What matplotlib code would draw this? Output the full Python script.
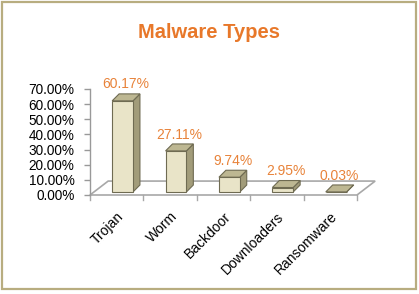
import matplotlib
matplotlib.use("Agg")
import matplotlib.pyplot as plt
from matplotlib.patches import Polygon, Rectangle
from matplotlib.ticker import FuncFormatter

categories = ["Trojan", "Worm", "Backdoor", "Downloaders", "Ransomware"]
values = [60.17, 27.11, 9.74, 2.95, 0.03]
value_labels = ["60.17%", "27.11%", "9.74%", "2.95%", "0.03%"]
yticks = [0, 10, 20, 30, 40, 50, 60, 70]

W, H, DPI = 419, 294, 100
fig = plt.figure(figsize=(W / DPI, H / DPI), dpi=DPI)
fig.patch.set_facecolor("white")

# outer frame
fig.add_artist(Rectangle((2 / W, 5 / H), 414 / W, 287 / H, transform=fig.transFigure,
                         fill=False, edgecolor="#B8AD80", linewidth=1.6))

fig.text(209 / W, 1 - 33 / H, "Malware Types", ha="center", va="center",
         fontsize=14.5, fontweight="bold", color="#E8782A",
         family=["Liberation Sans", "DejaVu Sans"])

ax = fig.add_axes([90 / W, (H - 195) / H, 267 / W, 106 / H])
n = len(categories)
ax.set_xlim(0, n)
ax.set_ylim(0, 70)
for s in ["top", "right", "bottom"]:
    ax.spines[s].set_visible(False)
ax.spines["left"].set_color("#999999")
ax.spines["left"].set_linewidth(1.0)
ax.set_yticks(yticks)
ax.yaxis.set_major_formatter(FuncFormatter(lambda v, p: f"{v:.2f}%"))
ax.tick_params(axis="y", length=4, width=1, color="#999999", pad=7,
               labelsize=9.8, labelcolor="black")
ax.set_xticks([])
for lab in ax.get_yticklabels():
    lab.set_family("Liberation Sans")

# floor (pseudo 3D)
fdx, fdy = 0.34, 9.2
floor = Polygon([(0, 0), (n, 0), (n + fdx, fdy), (fdx, fdy)], closed=True,
                facecolor="white", edgecolor="#A8A8A8", linewidth=1.2,
                clip_on=False, zorder=1)
ax.add_patch(floor)
# x tick marks under the front edge
for i in range(n + 1):
    ax.plot([i, i], [0, -3.5], color="#A8A8A8", linewidth=1, clip_on=False, zorder=1)

# bars
bw = 0.39
bx0, by0 = 0.11, 2.0
bdx, bdy = 0.13, 4.6
front_c = "#E9E4C8"
side_c = "#A29C7A"
top_c = "#BDB792"
edge_c = "#6F6B52"
for i, v in enumerate(values):
    xl = i + 0.5 + bx0 - bw / 2
    xr = xl + bw
    yb = by0
    yt = by0 + v
    side = Polygon([(xr, yb), (xr + bdx, yb + bdy), (xr + bdx, yt + bdy), (xr, yt)],
                   closed=True, facecolor=side_c, edgecolor=edge_c, linewidth=0.8,
                   clip_on=False, zorder=3)
    top = Polygon([(xl, yt), (xr, yt), (xr + bdx, yt + bdy), (xl + bdx, yt + bdy)],
                  closed=True, facecolor=top_c, edgecolor=edge_c, linewidth=0.8,
                  clip_on=False, zorder=3)
    front = Rectangle((xl, yb), bw, v, facecolor=front_c, edgecolor=edge_c,
                      linewidth=0.8, clip_on=False, zorder=4)
    ax.add_patch(side)
    ax.add_patch(top)
    ax.add_patch(front)
    ax.annotate(value_labels[i], xy=(i + 0.5 + bx0 + bdx / 2, yt + bdy),
                xytext=(0, 6.8), textcoords="offset points", ha="center", va="center",
                fontsize=10, color="#E8833A", family="Liberation Sans",
                annotation_clip=False)
    ax.annotate(categories[i], xy=(i + 0.5, 0), xytext=(3.5, -14),
                textcoords="offset points", ha="right", va="center",
                rotation=45, rotation_mode="anchor", fontsize=10, color="black",
                family="Liberation Sans", annotation_clip=False)

fig.savefig("out.png", dpi=DPI)
